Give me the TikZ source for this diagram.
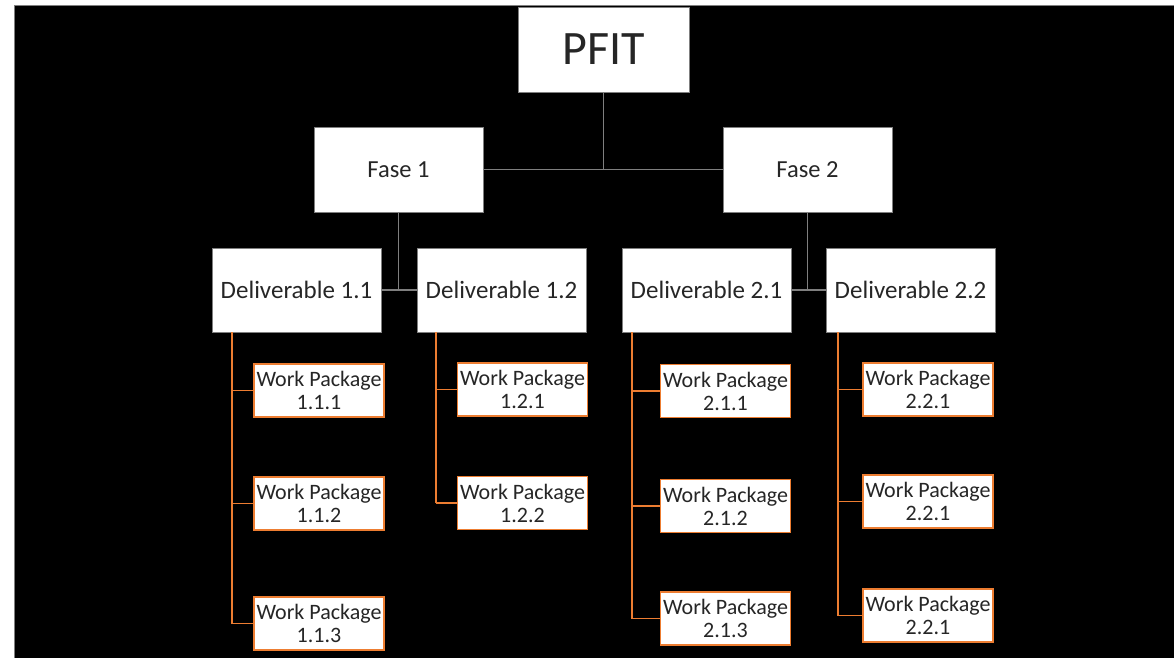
\documentclass[tikz,border=0pt]{standalone}
\usepackage{fontspec}
\setmainfont{Carlito}
\definecolor{lnGray}{RGB}{127,127,127}
\definecolor{orangeA}{RGB}{237,125,49}
\definecolor{txt}{RGB}{38,38,38}
\begin{document}
\begin{tikzpicture}[x=1pt,y=-1pt,
  box/.style={draw=lnGray, fill=white, line width=1pt, inner sep=0pt,
    minimum width=169pt, minimum height=85pt, text=txt,
    font=\fontsize{24.5}{28}\selectfont},
  wp/.style={draw=orangeA, fill=white, line width=1.3pt, inner sep=0pt,
    minimum width=130pt, minimum height=53pt, text=txt, align=center,
    font=\fontsize{22}{23}\selectfont},
  gline/.style={draw=lnGray, line width=1.8pt},
  oline/.style={draw=orangeA, line width=1.6pt}]
\useasboundingbox (0,0) rectangle (1174,657);
\fill[white] (0,0) rectangle (1174,657);
\draw[fill=black, draw=lnGray, line width=1pt] (14.5,5.5) rectangle (1190,670);

% top levels
\node[box, minimum width=171pt, font=\fontsize{48}{52}\selectfont] (P) at (603.5,49.5) {PFIT};
\node[box] (F1) at (398.5,169.5) {Fase 1};
\node[box] (F2) at (807.5,169.5) {Fase 2};
\node[box, minimum height=84pt, font=\fontsize{25}{28}\selectfont] (D11) at (296.5,290) {Deliverable 1.1};
\node[box, minimum height=84pt, font=\fontsize{25}{28}\selectfont] (D12) at (501.5,290) {Deliverable 1.2};
\node[box, minimum height=84pt, font=\fontsize{25}{28}\selectfont] (D21) at (706.5,290) {Deliverable 2.1};
\node[box, minimum height=84pt, font=\fontsize{25}{28}\selectfont] (D22) at (910.5,290) {Deliverable 2.2};

% work packages
\node[wp] (W111) at (319,390.5) {Work Package\\1.1.1};
\node[wp] (W112) at (319,503.5) {Work Package\\1.1.2};
\node[wp] (W113) at (319,623.5) {Work Package\\1.1.3};
\node[wp] (W121) at (522.5,389.5) {Work Package\\1.2.1};
\node[wp] (W122) at (522.5,503) {Work Package\\1.2.2};
\node[wp] (W211) at (725.5,391) {Work Package\\2.1.1};
\node[wp] (W212) at (725.5,506) {Work Package\\2.1.2};
\node[wp] (W213) at (725.5,618.5) {Work Package\\2.1.3};
\node[wp] (W221) at (928,389.5) {Work Package\\2.2.1};
\node[wp] (W222) at (928,501.5) {Work Package\\2.2.1};
\node[wp] (W223) at (928,615.5) {Work Package\\2.2.1};

% gray connectors
\draw[gline] (P.south) -- (P.south |- F1.east);
\draw[gline] (F1.east) -- (F2.west);
\draw[gline] (F1.south) -- (F1.south |- D11.east);
\draw[gline] (D11.east) -- (D12.west);
\draw[gline] (F2.south) -- (F2.south |- D21.east);
\draw[gline] (D21.east) -- (D22.west);

% orange connectors
\coordinate (c11) at (232,332);
\coordinate (c12) at (436,332);
\coordinate (c21) at (632,332);
\coordinate (c22) at (838,332);
\draw[oline] (c11) -- (c11 |- W113.west);
\draw[oline] (c11 |- W111.west) -- (W111.west);
\draw[oline] (c11 |- W112.west) -- (W112.west);
\draw[oline] (c11 |- W113.west) -- (W113.west);
\draw[oline] (c12) -- (c12 |- W122.west);
\draw[oline] (c12 |- W121.west) -- (W121.west);
\draw[oline] (c12 |- W122.west) -- (W122.west);
\draw[oline] (c21) -- (c21 |- W213.west);
\draw[oline] (c21 |- W211.west) -- (W211.west);
\draw[oline] (c21 |- W212.west) -- (W212.west);
\draw[oline] (c21 |- W213.west) -- (W213.west);
\draw[oline] (c22) -- (c22 |- W223.west);
\draw[oline] (c22 |- W221.west) -- (W221.west);
\draw[oline] (c22 |- W222.west) -- (W222.west);
\draw[oline] (c22 |- W223.west) -- (W223.west);
\end{tikzpicture}
\end{document}
